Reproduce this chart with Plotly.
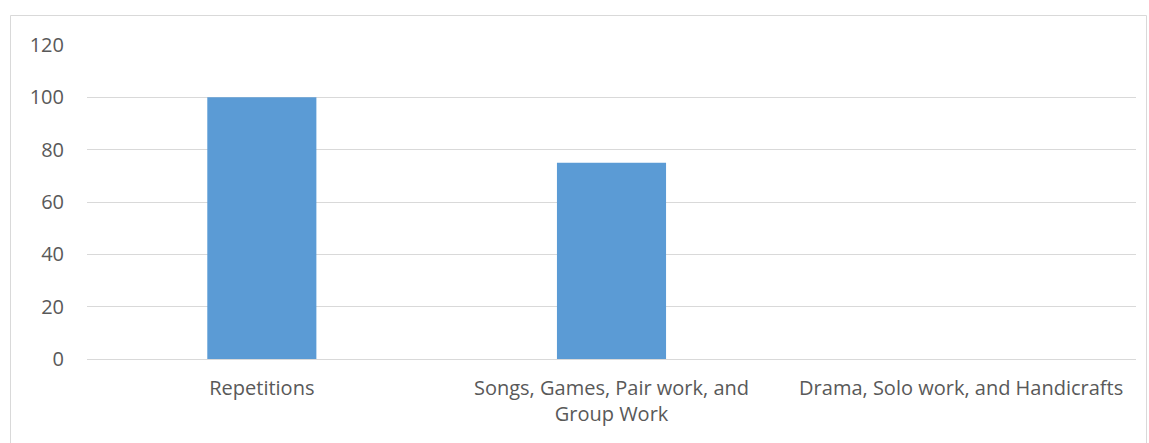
import plotly.graph_objects as go

categories = ["Repetitions", "Songs, Games, Pair work, and<br>Group Work", "Drama, Solo work, and Handicrafts"]
values = [100, 75, 0]
y_ticks = [0, 20, 40, 60, 80, 100, 120]

W, H = 1149, 443
L, R, T, B = 87, 13, 45, 84
pw, ph = W - L - R, H - T - B

fig = go.Figure(go.Bar(x=categories, y=values, marker=dict(color="#5b9bd5", line=dict(width=0)),
                       width=0.312))

fig.update_layout(
    width=W, height=H,
    margin=dict(l=L, r=R, t=T, b=B),
    paper_bgcolor="white", plot_bgcolor="white",
    font=dict(family="Open Sans, Liberation Sans, sans-serif", size=20, color="#595959"),
    showlegend=False,
    xaxis=dict(showgrid=False, showline=False, zeroline=False, ticks="",
               tickfont=dict(size=20, color="#595959"), ticklabelstandoff=15),
    yaxis=dict(range=[0, 120], tickvals=y_ticks, showgrid=True, gridcolor="#d9d9d9", gridwidth=1,
               zeroline=True, zerolinecolor="#d9d9d9", zerolinewidth=1, showline=False, ticks="",
               tickfont=dict(size=20, color="#595959"), ticklabelstandoff=22),
    shapes=[dict(type="rect", xref="paper", yref="paper",
                 x0=(10.5 - L) / pw, x1=(1146.5 - L) / pw,
                 y0=(H - B - 450) / ph, y1=(H - B - 15.5) / ph,
                 line=dict(color="#d9d9d9", width=1), fillcolor="rgba(0,0,0,0)", layer="below")],
)

fig.write_html("out.html")
